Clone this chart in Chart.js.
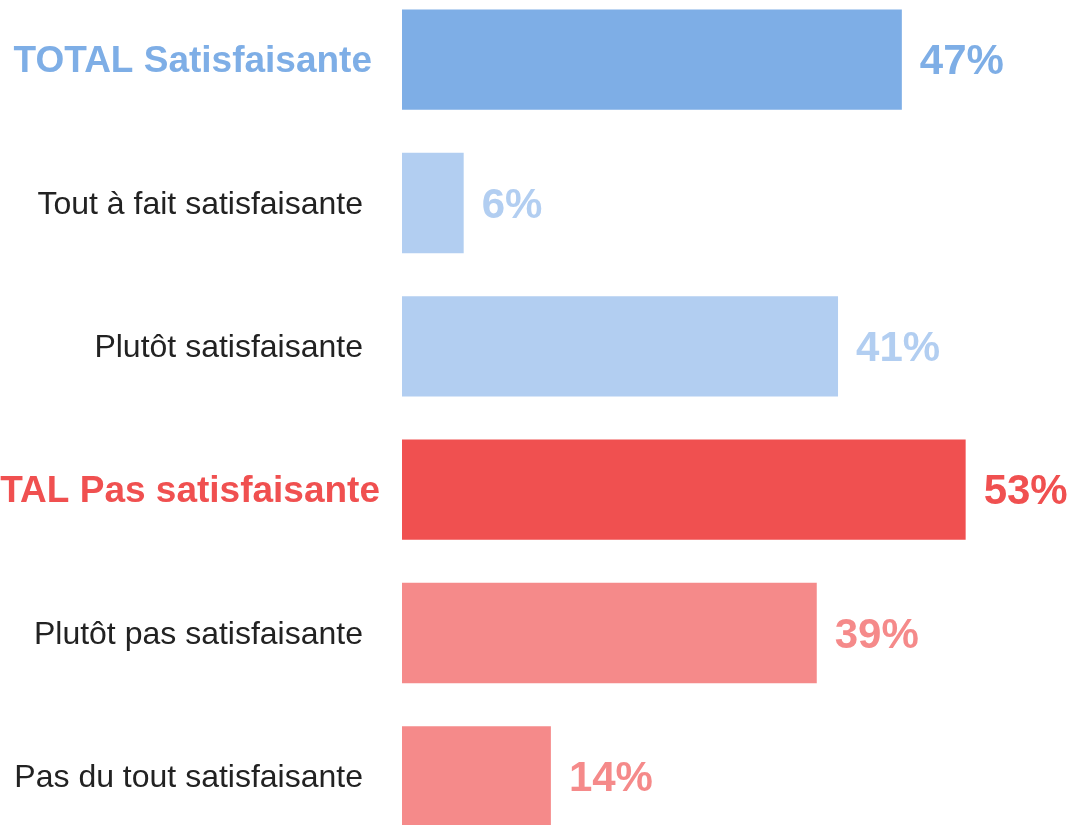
<!DOCTYPE html>
<html>
<head>
<meta charset="utf-8">
<script src="https://cdn.jsdelivr.net/npm/chart.js@4/dist/chart.umd.min.js"></script>
<style>
  html, body { margin: 0; padding: 0; background: #ffffff; overflow: hidden; }
  #wrap { position: absolute; left: 0; top: -12px; width: 1073px; height: 860px; }
</style>
</head>
<body>
<div id="wrap"><canvas id="c"></canvas></div>
<script>
const categories = [
  'TOTAL Satisfaisante',
  'Tout à fait satisfaisante',
  'Plutôt satisfaisante',
  'TOTAL Pas satisfaisante',
  'Plutôt pas satisfaisante',
  'Pas du tout satisfaisante'
];
const values = [47, 5.8, 41, 53, 39, 14];
const valueLabels = ['47%', '6%', '41%', '53%', '39%', '14%'];
const isTotal = [true, false, false, true, false, false];

const barColors = ['#7EAEE6', '#B2CEF1', '#B2CEF1', '#F05050', '#F58A8A', '#F58A8A'];
const labelRightOffset = [30, 39, 39, 22, 39, 39];
const FONT = '"Liberation Sans", Arial, Helvetica, sans-serif';

const labelsPlugin = {
  id: 'customLabels',
  afterDatasetsDraw(chart) {
    const ctx = chart.ctx;
    const meta = chart.getDatasetMeta(0);
    const left = chart.chartArea.left;
    ctx.save();
    ctx.textBaseline = 'middle';
    meta.data.forEach((bar, i) => {
      const y = bar.y;
      ctx.textAlign = 'right';
      if (isTotal[i]) {
        ctx.font = 'bold 37px ' + FONT;
        ctx.fillStyle = barColors[i];
      } else {
        ctx.font = '32px ' + FONT;
        ctx.fillStyle = '#222222';
      }
      ctx.fillText(categories[i], left - labelRightOffset[i], y + 2);
      ctx.textAlign = 'left';
      ctx.font = 'bold 42px ' + FONT;
      ctx.fillStyle = barColors[i];
      ctx.fillText(valueLabels[i], bar.x + 18, y + 3);
    });
    ctx.restore();
  }
};

new Chart(document.getElementById('c'), {
  type: 'bar',
  data: {
    labels: categories,
    datasets: [{
      data: values,
      backgroundColor: barColors,
      borderWidth: 0,
      barPercentage: 0.7,
      categoryPercentage: 1.0
    }]
  },
  options: {
    indexAxis: 'y',
    responsive: true,
    maintainAspectRatio: false,
    animation: false,
    layout: { padding: { left: 402, right: 1, top: 0, bottom: 0 } },
    plugins: {
      legend: { display: false },
      tooltip: { enabled: false }
    },
    scales: {
      x: { display: false, min: 0, max: 63 },
      y: { display: false, offset: true, grid: { display: false } }
    }
  },
  plugins: [labelsPlugin]
});
</script>
</body>
</html>
